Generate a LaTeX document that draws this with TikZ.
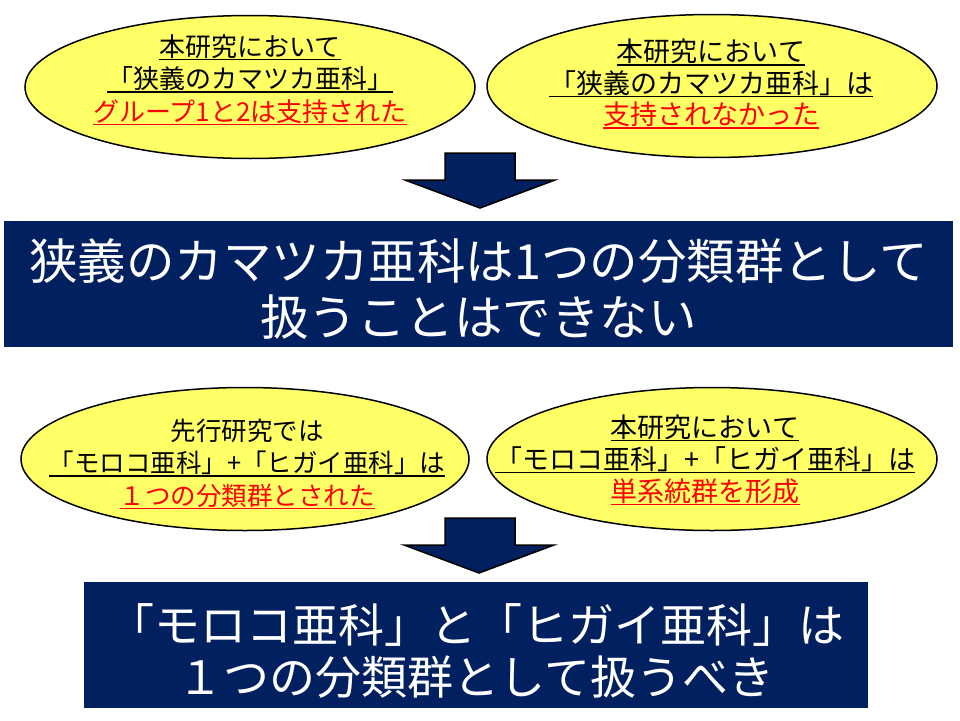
\documentclass[tikz,border=0pt]{standalone}
\usepackage{fontspec}
\setmainfont{Noto Sans CJK JP}
\usetikzlibrary{shapes.geometric}
\definecolor{navy}{RGB}{0,32,96}
\definecolor{ovalyellow}{RGB}{255,255,102}
\newcommand{\ulined}[1]{\setbox0\hbox{#1}\rlap{\rule[-0.15em]{\wd0}{1.4pt}}\box0} % underline of a line
\tikzset{x=1pt, y=-1pt,
oval/.style={ % Yellow ellipses holding the findings
ellipse, draw, line width=1.5pt,
fill=ovalyellow,
minimum width=450pt, minimum height=143pt},
ovaltext/.style={align=center, inner sep=0pt},
verdict/.style={ % Dark blue conclusion boxes
fill=navy, inner sep=0pt,
minimum height=126pt},
verdicttext/.style={text=white, align=center, inner sep=0pt},
downarrow/.style={ % Block arrows between the rows
fill=navy, draw=black, line width=1.5pt, line join=miter}}

\begin{document}
\begin{tikzpicture}
    \useasboundingbox (0,0) rectangle (960,720);
    
    \node[oval] (tl) at (250,87) {};
    \node[oval] (tr) at (712,86) {};
    \node[ovaltext, font=\fontsize{26}{32.5}\selectfont] (tltext) at (250,80)
      {\ulined{本研究において}\\\ulined{「狭義のカマツカ亜科」}\\\textcolor{red}{\ulined{グループ1と2は支持された}}};
    \node[ovaltext, font=\fontsize{27}{31.5}\selectfont] (trtext) at (711,84)
      {\ulined{本研究において}\\\ulined{「狭義のカマツカ亜科」は}\\\textcolor{red}{\ulined{支持されなかった}}};
    
    \draw[downarrow] (445,153) -- (515,153) -- (515,180) -- (555,180) -- (480,208) -- (405,180) -- (445,180) -- cycle;
    
    \node[verdict, minimum width=949pt] (res1) at (478.5,284) {};
    \node[verdicttext, font=\fontsize{48.5}{56}\selectfont] (res1text) at (478.5,289)
      {狭義のカマツカ亜科は1つの分類群として\\扱うことはできない};
    
    \node[oval, minimum width=448pt] (bl) at (245,459) {};
    \node[oval] (br) at (712,459) {};
    \node[ovaltext, font=\fontsize{25.5}{32.5}\selectfont] (bltext) at (247,464)
      {先行研究では\\\ulined{「モロコ亜科」+「ヒガイ亜科」は}\\\textcolor{red}{\ulined{１つの分類群とされた}}};
    \node[ovaltext, font=\fontsize{27}{32}\selectfont] (brtext) at (705,460)
      {\ulined{本研究において}\\\ulined{「モロコ亜科」+「ヒガイ亜科」は}\\\textcolor{red}{\ulined{単系統群を形成}}};
    
    \draw[downarrow] (445,518) -- (515,518) -- (515,545) -- (554,545) -- (479,573) -- (404,545) -- (445,545) -- cycle;
    
    \node[verdict, minimum width=784pt] (res2) at (476,645) {};
    \node[verdicttext, font=\fontsize{46}{52}\selectfont] (res2text) at (476,651)
      {「モロコ亜科」と「ヒガイ亜科」は\\１つの分類群として扱うべき};
    
\end{tikzpicture}
\end{document}
